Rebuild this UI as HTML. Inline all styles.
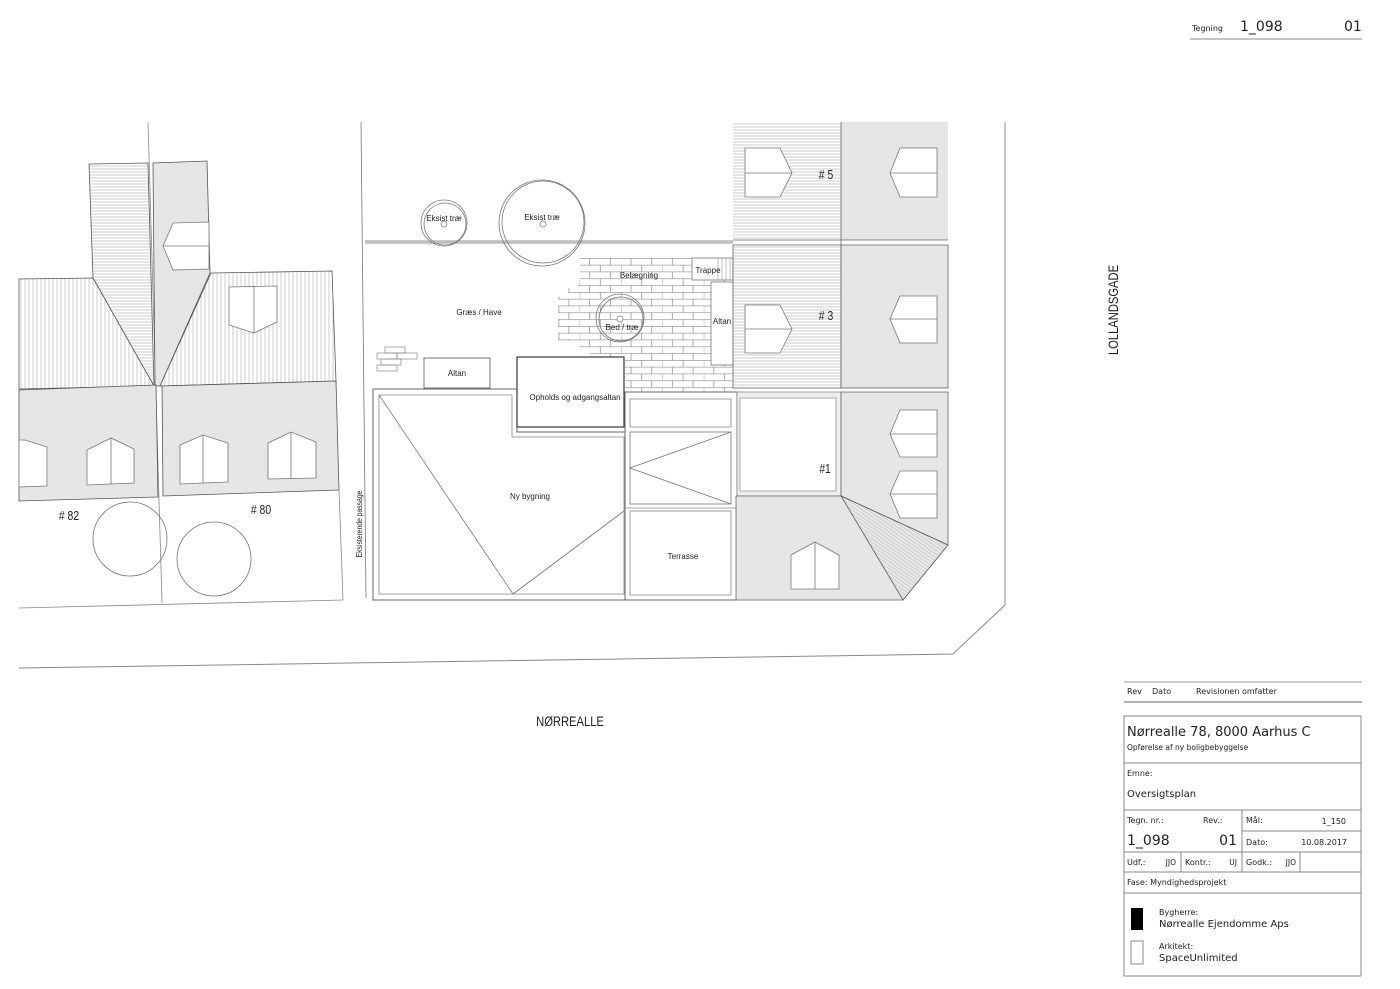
<!DOCTYPE html>
<html><head><meta charset="utf-8"><style>
html,body{margin:0;padding:0;background:#fff;}
svg{display:block;}
.lb{font-family:"Liberation Sans",sans-serif;fill:#222;}
.tb{font-family:"DejaVu Sans","Liberation Sans",sans-serif;fill:#222;}
</style></head><body>
<svg width="1400" height="989" viewBox="0 0 1400 989" xmlns="http://www.w3.org/2000/svg">
<defs>
<pattern id="hH" width="6" height="3" patternUnits="userSpaceOnUse"><rect width="6" height="3" fill="#fff"/><line x1="0" y1="1" x2="6" y2="1" stroke="#c0c0c0" stroke-width="0.8"/></pattern>
<pattern id="hV" width="4" height="6" patternUnits="userSpaceOnUse"><rect width="4" height="6" fill="#fff"/><line x1="1" y1="0" x2="1" y2="6" stroke="#c0c0c0" stroke-width="0.8"/></pattern>
<pattern id="gH" width="6" height="2" patternUnits="userSpaceOnUse"><rect width="6" height="2" fill="#ececec"/><line x1="0" y1="1" x2="6" y2="1" stroke="#d6d6d6" stroke-width="0.6"/></pattern>
<pattern id="gV" width="2" height="6" patternUnits="userSpaceOnUse"><rect width="2" height="6" fill="#ececec"/><line x1="1" y1="0" x2="1" y2="6" stroke="#d6d6d6" stroke-width="0.6"/></pattern>
<pattern id="gD" width="3" height="3" patternUnits="userSpaceOnUse" patternTransform="rotate(35)"><rect width="3" height="3" fill="#e8e8e8"/><line x1="0" y1="1" x2="3" y2="1" stroke="#bdbdbd" stroke-width="0.6"/></pattern>
<pattern id="brick" x="0" y="258" width="41.4" height="13.6" patternUnits="userSpaceOnUse"><rect width="41.4" height="13.6" fill="#fff"/><path d="M0,0.3H41.4M0,7.1H41.4M10,0V6.8M30.7,0V6.8M0,7.1V13.6M20.7,7.1V13.6" stroke="#8a8a8a" stroke-width="0.7" fill="none"/></pattern>
<clipPath id="bclip"><polygon points="580,258 733,258 733,392 625,392 625,357 590,357 590,352 580,352 580,341 558,341 558,297 568,297 568,288 578,288 578,280 580,280"/></clipPath>
</defs>

<!-- road -->
<polyline points="19,668 953,654 1005,605 1005,122" fill="none" stroke="#888" stroke-width="1"/>

<!-- LEFT HOUSES -->
<line x1="148" y1="122" x2="162" y2="603" stroke="#888" stroke-width="0.8"/>
<polygon points="89,164 148,163 154,386 93,278" fill="url(#hH)" stroke="#555" stroke-width="0.8"/>
<polygon points="153,163 207,161 210,273 160,386 155,386" fill="url(#gH)" stroke="#555" stroke-width="0.8"/>
<polygon points="163,246 173,223 209,222 209,269 173,270" fill="#fff" stroke="#777" stroke-width="0.8"/>
<line x1="163" y1="246" x2="209" y2="246" stroke="#777" stroke-width="0.8"/>
<polygon points="19,279 93,278 154,386 19,389" fill="url(#hV)" stroke="#555" stroke-width="0.8"/>
<polygon points="211,273 332,271 336,381 160,386" fill="url(#hV)" stroke="#555" stroke-width="0.8"/>
<polygon points="229,287 277,286 277,322 254,333 229,325" fill="#fff" stroke="#777" stroke-width="0.8"/>
<line x1="254" y1="286" x2="254" y2="333" stroke="#777" stroke-width="0.8"/>
<polygon points="19,390 156,385 158,497 19,501" fill="url(#gV)" stroke="#555" stroke-width="0.8"/>
<polygon points="162,386 336,381 339,490 163,496" fill="url(#gV)" stroke="#555" stroke-width="0.8"/>
<polygon points="19,440 25,440 47,447 47,486 19,487" fill="#fff" stroke="#777" stroke-width="0.8"/>
<polygon points="87,450 111,438 134,449 134,483 87,485" fill="#fff" stroke="#777" stroke-width="0.8"/>
<line x1="111" y1="438" x2="111" y2="484" stroke="#777" stroke-width="0.8"/>
<polygon points="180,445 203,435 228,443 228,482 180,484" fill="#fff" stroke="#777" stroke-width="0.8"/>
<line x1="203" y1="435" x2="203" y2="483" stroke="#777" stroke-width="0.8"/>
<polygon points="268,443 291,432 316,442 316,478 268,479" fill="#fff" stroke="#777" stroke-width="0.8"/>
<line x1="291" y1="432" x2="291" y2="479" stroke="#777" stroke-width="0.8"/>
<line x1="339" y1="490" x2="343" y2="600" stroke="#888" stroke-width="0.8"/>
<line x1="19" y1="608" x2="343" y2="600" stroke="#888" stroke-width="0.8"/>
<circle cx="130" cy="539" r="37" fill="none" stroke="#777" stroke-width="0.8"/>
<circle cx="214" cy="559" r="37" fill="none" stroke="#777" stroke-width="0.8"/>
<text class="lb" font-size="13" text-anchor="middle" transform="translate(69,520) scale(0.8,1)"># 82</text>
<text class="lb" font-size="13" text-anchor="middle" transform="translate(261,514) scale(0.8,1)"># 80</text>

<!-- MIDDLE -->
<line x1="361" y1="122" x2="366" y2="598" stroke="#777" stroke-width="0.8"/>
<text class="lb" font-size="8" text-anchor="middle" transform="translate(362,524) rotate(-90) scale(0.85,1)">Eksisterende passage</text>
<line x1="365" y1="242" x2="733" y2="242" stroke="#999" stroke-width="3"/>
<line x1="365" y1="242" x2="733" y2="242" stroke="#fff" stroke-width="0.8"/>
<circle cx="444" cy="223" r="23" fill="none" stroke="#777" stroke-width="0.8"/>
<circle cx="445" cy="224" r="21" fill="none" stroke="#777" stroke-width="0.8"/>
<circle cx="444" cy="224" r="3" fill="none" stroke="#777" stroke-width="0.7"/>
<circle cx="542" cy="223" r="43" fill="none" stroke="#777" stroke-width="0.8"/>
<circle cx="543" cy="222" r="41" fill="none" stroke="#777" stroke-width="0.8"/>
<circle cx="543" cy="224" r="3" fill="none" stroke="#777" stroke-width="0.7"/>
<text class="lb" x="444" y="221" font-size="8" text-anchor="middle">Eksist træ</text>
<text class="lb" x="542" y="220" font-size="8" text-anchor="middle">Eksist træ</text>
<text class="lb" x="479" y="315" font-size="8" text-anchor="middle">Græs / Have</text>

<rect x="540" y="255" width="200" height="140" fill="url(#brick)" clip-path="url(#bclip)"/>
<g stroke="#888" stroke-width="0.7" fill="none">
<rect x="385" y="347" width="20" height="6"/><rect x="377" y="353" width="20" height="6"/><rect x="397" y="353" width="20" height="6"/><rect x="381" y="359" width="20" height="6"/><rect x="377" y="365" width="20" height="6"/>
</g>
<rect x="692" y="258" width="41" height="22" fill="#fff" stroke="#777" stroke-width="0.8"/>
<g stroke="#999" stroke-width="0.6"><line x1="718" y1="258" x2="718" y2="280"/><line x1="722" y1="258" x2="722" y2="280"/><line x1="726" y1="258" x2="726" y2="280"/><line x1="730" y1="258" x2="730" y2="280"/></g>
<text class="lb" x="708" y="273" font-size="8" text-anchor="middle">Trappe</text>
<rect x="711" y="282" width="22" height="83" fill="#fff" stroke="#777" stroke-width="0.8"/>
<text class="lb" x="722" y="324" font-size="8" text-anchor="middle">Altan</text>
<text class="lb" x="639" y="278" font-size="8" text-anchor="middle">Belægning</text>
<circle cx="620" cy="318" r="24" fill="none" stroke="#777" stroke-width="0.8"/>
<circle cx="621" cy="319" r="22" fill="none" stroke="#777" stroke-width="0.8"/>
<circle cx="620" cy="319" r="3" fill="#fff" stroke="#777" stroke-width="0.7"/>
<text class="lb" x="622" y="330" font-size="8" text-anchor="middle">Bed / træ</text>

<rect x="424" y="358" width="66" height="30" fill="#fff" stroke="#666" stroke-width="0.9"/>
<text class="lb" x="457" y="376" font-size="8" text-anchor="middle">Altan</text>

<path d="M373,389 L517,389 L517,432 L625,432 L625,392 L737,392 L737,600 L373,600 Z" fill="#fff" stroke="#666" stroke-width="1"/>
<path d="M379,395 L512,395 L512,437 L624,437 L624,594 L379,594 Z" fill="none" stroke="#888" stroke-width="0.8"/>
<polyline points="379,395 513,594 624,511" fill="none" stroke="#777" stroke-width="0.8"/>
<rect x="517" y="357" width="107" height="70" fill="#fff" stroke="#444" stroke-width="1.3"/>
<text class="lb" x="575" y="400" font-size="8" text-anchor="middle">Opholds og adgangsaltan</text>
<line x1="625" y1="432" x2="625" y2="600" stroke="#666" stroke-width="1"/>
<rect x="630" y="399" width="101" height="28" fill="none" stroke="#888" stroke-width="0.8"/>
<rect x="630" y="432" width="101" height="72" fill="none" stroke="#777" stroke-width="0.8"/>
<polyline points="731,432 630,468 731,504" fill="none" stroke="#777" stroke-width="0.8"/>
<line x1="625" y1="508" x2="737" y2="508" stroke="#888" stroke-width="0.8"/>
<rect x="630" y="511" width="101" height="84" fill="none" stroke="#888" stroke-width="0.8"/>
<text class="lb" x="683" y="559" font-size="8" text-anchor="middle">Terrasse</text>
<text class="lb" x="530" y="499" font-size="8" text-anchor="middle">Ny bygning</text>

<!-- RIGHT HOUSES -->
<rect x="733" y="122" width="108" height="118" fill="url(#hH)"/>
<rect x="841" y="122" width="107" height="118" fill="url(#gH)"/>
<line x1="841" y1="122" x2="841" y2="388" stroke="#666" stroke-width="0.8"/>
<line x1="733" y1="240" x2="948" y2="240" stroke="#666" stroke-width="0.8"/>
<rect x="733" y="245" width="108" height="143" fill="url(#hH)" stroke="#666" stroke-width="0.8"/>
<rect x="841" y="245" width="107" height="143" fill="url(#gH)" stroke="#666" stroke-width="0.8"/>
<rect x="737" y="392" width="104" height="104" fill="#eee" stroke="#888" stroke-width="0.8"/>
<rect x="740" y="398" width="96" height="93" fill="#fff" stroke="#999" stroke-width="0.8"/>
<polygon points="841,392 948,392 948,545 841,496" fill="url(#gH)" stroke="#666" stroke-width="0.8"/>
<polygon points="841,496 948,545 903,600" fill="url(#gD)" stroke="#555" stroke-width="0.8"/>
<polygon points="736,496 841,496 903,600 736,600" fill="url(#gV)" stroke="#666" stroke-width="0.8"/>
<g fill="#fff" stroke="#777" stroke-width="0.8">
<polygon points="745,148 780,148 792,173 780,197 745,197"/><line x1="745" y1="173" x2="792" y2="173"/>
<polygon points="937,148 900,148 890,173 900,197 937,197"/><line x1="890" y1="173" x2="937" y2="173"/>
<polygon points="745,305 780,305 792,329 780,353 745,353"/><line x1="745" y1="329" x2="792" y2="329"/>
<polygon points="937,296 900,296 890,319 900,343 937,343"/><line x1="890" y1="319" x2="937" y2="319"/>
<polygon points="937,410 900,410 890,434 900,457 937,457"/><line x1="890" y1="434" x2="937" y2="434"/>
<polygon points="937,471 900,471 890,494 900,518 937,518"/><line x1="890" y1="494" x2="937" y2="494"/>
<polygon points="791,555 815,542 839,555 839,589 791,589"/><line x1="815" y1="542" x2="815" y2="589"/>
</g>
<text class="lb" font-size="13" text-anchor="middle" transform="translate(826,179) scale(0.8,1)"># 5</text>
<text class="lb" font-size="13" text-anchor="middle" transform="translate(826,320) scale(0.8,1)"># 3</text>
<text class="lb" font-size="13" text-anchor="middle" transform="translate(825,473) scale(0.8,1)">#1</text>

<text class="lb" font-size="14" text-anchor="middle" transform="translate(570,726) scale(0.8,1)">NØRREALLE</text>
<text class="lb" font-size="14" text-anchor="middle" transform="translate(1118,310) rotate(-90) scale(0.8,1)">LOLLANDSGADE</text>

<!-- TITLE BLOCK -->
<text class="tb" x="1192" y="31" font-size="8">Tegning</text>
<text class="tb" x="1240" y="31" font-size="14">1_098</text>
<text class="tb" x="1344" y="31" font-size="14">01</text>
<line x1="1190" y1="39" x2="1362" y2="39" stroke="#888" stroke-width="1"/>

<line x1="1124" y1="682" x2="1362" y2="682" stroke="#999" stroke-width="1"/>
<line x1="1124" y1="702" x2="1362" y2="702" stroke="#999" stroke-width="1.5"/>
<text class="tb" x="1127" y="694" font-size="8">Rev</text>
<text class="tb" x="1152" y="694" font-size="8">Dato</text>
<text class="tb" x="1196" y="694" font-size="8">Revisionen omfatter</text>

<g stroke="#888" stroke-width="1" fill="none">
<rect x="1124" y="716" width="237" height="260"/>
<line x1="1124" y1="763" x2="1361" y2="763"/>
<line x1="1124" y1="810" x2="1361" y2="810"/>
<line x1="1242" y1="831" x2="1361" y2="831"/>
<line x1="1124" y1="852" x2="1361" y2="852"/>
<line x1="1124" y1="872" x2="1361" y2="872"/>
<line x1="1124" y1="893" x2="1361" y2="893"/>
<line x1="1242" y1="810" x2="1242" y2="872"/>
<line x1="1181" y1="852" x2="1181" y2="872"/>
<line x1="1300" y1="852" x2="1300" y2="872"/>
</g>
<text class="tb" x="1127" y="736" font-size="13">Nørrealle 78, 8000 Aarhus C</text>
<text class="tb" x="1127" y="750" font-size="7.5">Opførelse af ny boligbebyggelse</text>
<text class="tb" x="1127" y="776" font-size="8">Emne:</text>
<text class="tb" x="1127" y="797" font-size="10">Oversigtsplan</text>
<text class="tb" x="1127" y="823" font-size="8">Tegn. nr.:</text>
<text class="tb" x="1203" y="823" font-size="8">Rev.:</text>
<text class="tb" x="1246" y="823" font-size="8">Mål:</text>
<text class="tb" x="1346" y="824" font-size="8" text-anchor="end">1_150</text>
<text class="tb" x="1127" y="845" font-size="14">1_098</text>
<text class="tb" x="1237" y="845" font-size="14" text-anchor="end">01</text>
<text class="tb" x="1246" y="845" font-size="8">Dato:</text>
<text class="tb" x="1347" y="845" font-size="8" text-anchor="end">10.08.2017</text>
<text class="tb" x="1127" y="865" font-size="8">Udf.:</text>
<text class="tb" x="1176" y="865" font-size="7.5" text-anchor="end">JJO</text>
<text class="tb" x="1185" y="865" font-size="8">Kontr.:</text>
<text class="tb" x="1237" y="865" font-size="7.5" text-anchor="end">UJ</text>
<text class="tb" x="1246" y="865" font-size="8">Godk.:</text>
<text class="tb" x="1296" y="865" font-size="7.5" text-anchor="end">JJO</text>
<text class="tb" x="1127" y="885" font-size="8">Fase:  Myndighedsprojekt</text>
<rect x="1131" y="908" width="12" height="22" fill="#000"/>
<rect x="1131" y="941" width="12" height="23" fill="#fff" stroke="#888" stroke-width="1"/>
<text class="tb" x="1159" y="915" font-size="8">Bygherre:</text>
<text class="tb" x="1159" y="927" font-size="10">Nørrealle Ejendomme Aps</text>
<text class="tb" x="1159" y="949" font-size="8">Arkitekt:</text>
<text class="tb" x="1159" y="961" font-size="10">SpaceUnlimited</text>
</svg>
</body></html>
